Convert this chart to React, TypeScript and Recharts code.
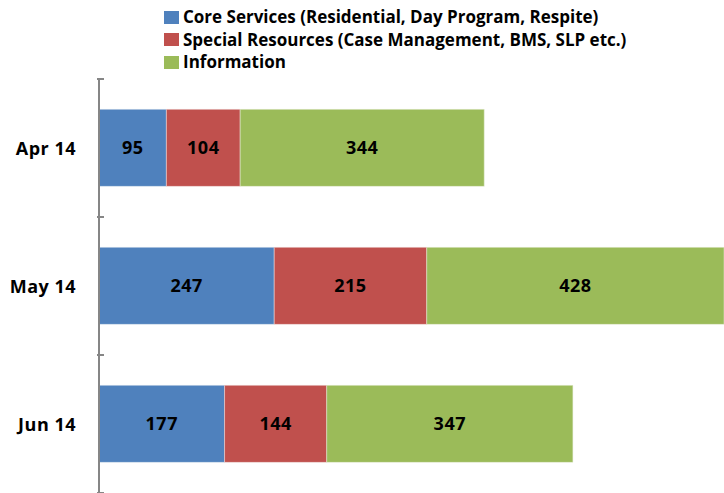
import React from 'react';
import { BarChart, Bar, XAxis, YAxis, LabelList } from 'recharts';

const months = ['Apr 14', 'May 14', 'Jun 14'];
const coreServices = [95, 247, 177];
const specialResources = [104, 215, 144];
const information = [344, 428, 347];

const seriesNames = [
  'Core Services (Residential, Day Program, Respite)',
  'Special Resources (Case Management, BMS, SLP etc.)',
  'Information',
];
const COLORS = ['#4F81BD', '#C0504D', '#9BBB59'];

const data = months.map((m, i) => ({
  month: m,
  core: coreServices[i],
  special: specialResources[i],
  info: information[i],
}));

const WIDTH = 724;
const HEIGHT = 493;
const PLOT_TOP = 79;
const AXIS_W = 99;
const FONT = '"Open Sans", Lato, sans-serif';
const BAND = (HEIGHT - PLOT_TOP) / months.length;

const LABEL_STYLE = {
  fontFamily: FONT,
  fontSize: 18,
  fontWeight: 700,
  letterSpacing: 0.5,
  fill: '#000',
} as const;

const MonthTick = (props: any) => {
  const { x, y, payload, index } = props;
  const top = y - BAND / 2;
  return (
    <g>
      <line x1={x + 6} x2={x + 13} y1={top} y2={top} stroke="#868686" strokeWidth={2} />
      {index === months.length - 1 && (
        <line x1={x + 6} x2={x + 13} y1={top + BAND} y2={top + BAND} stroke="#868686" strokeWidth={2} />
      )}
      <text x={x - 15} y={y} textAnchor="end" dominantBaseline="central" {...LABEL_STYLE}>
        {payload.value}
      </text>
    </g>
  );
};

export default function App() {
  return (
    <div style={{ position: 'absolute', left: 0, top: 0, width: WIDTH, height: HEIGHT, background: '#fff', overflow: 'hidden' }}>
      <div style={{ position: 'absolute', left: 164, top: 6, fontFamily: FONT, fontSize: 17, fontWeight: 700, lineHeight: '22.5px' }}>
        {seriesNames.map((name, i) => (
          <div key={name} style={{ display: 'flex', alignItems: 'center', whiteSpace: 'nowrap' }}>
            <span style={{ display: 'inline-block', width: 15, height: 13, background: COLORS[i], marginRight: 4 }} />
            {name}
          </div>
        ))}
      </div>
      <BarChart
        width={WIDTH}
        height={HEIGHT}
        data={data}
        layout="vertical"
        margin={{ top: PLOT_TOP, right: 0, bottom: 0, left: 0 }}
        barCategoryGap="22%"
      >
        <XAxis type="number" domain={[0, 881]} allowDataOverflow hide />
        <YAxis
          type="category"
          dataKey="month"
          width={AXIS_W}
          axisLine={{ stroke: '#868686', strokeWidth: 2 }}
          tickLine={false}
          tick={<MonthTick />}
        />
        <Bar dataKey="core" stackId="a" fill={COLORS[0]} stroke="#dfe6f0" strokeWidth={0.5} isAnimationActive={false}>
          <LabelList dataKey="core" position="center" style={LABEL_STYLE} />
        </Bar>
        <Bar dataKey="special" stackId="a" fill={COLORS[1]} stroke="#f0dede" strokeWidth={0.5} isAnimationActive={false}>
          <LabelList dataKey="special" position="center" style={LABEL_STYLE} />
        </Bar>
        <Bar dataKey="info" stackId="a" fill={COLORS[2]} stroke="#e8efdc" strokeWidth={0.5} isAnimationActive={false}>
          <LabelList dataKey="info" position="center" style={LABEL_STYLE} />
        </Bar>
      </BarChart>
    </div>
  );
}
